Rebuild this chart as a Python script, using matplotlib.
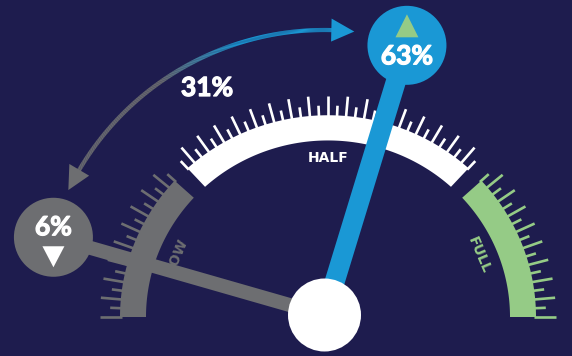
import numpy as np
import matplotlib
matplotlib.use("Agg")
import matplotlib.pyplot as plt
import matplotlib.patheffects as pe
from matplotlib.patches import Polygon, Circle
from matplotlib.collections import LineCollection
from matplotlib.colors import to_rgb

# ---------------- data ----------------
segment_labels = ["LOW", "HALF", "FULL"]
segment_spans = [(137.5, 180.0), (47.5, 132.5), (0.0, 42.5)]   # dial degrees
segment_colors = ["#6D6E71", "#FFFFFF", "#95CB86"]
label_colors = ["#6D6E71", "#FFFFFF", "#95CB86"]

needle_values = [6, 63]           # percent
needle_labels = ["6%", "63%"]
needle_trend = ["down", "up"]
needle_colors = ["#6D6E71", "#1A98D5"]
trend_colors = ["#FFFFFF", "#95CB86"]
change_label = "31%"

# dial scale (percent -> dial angle in degrees), as drawn in the infographic
dial_pct = [0, 6, 63, 100]
dial_deg = [180, 164, 73, 0]

BG = "#1E1C4E"

# ---------------- figure ----------------
fig = plt.figure(figsize=(5.72, 3.56), dpi=100)
fig.patch.set_facecolor(BG)
ax = fig.add_axes([0, 0, 1, 1])
ax.set_facecolor(BG)
ax.set_xlim(0, 572)
ax.set_ylim(356, 0)
ax.axis("off")

CX, CY, K = 328.0, 317.0, 0.97
R_IN, R_OUT = 182.0, 208.0


def gp(r, deg):
    t = np.radians(deg)
    return CX + r * np.cos(t), CY - K * r * np.sin(t)


# bands + ticks
for (a0, a1), col in zip(segment_spans, segment_colors):
    th = np.linspace(a0, a1, 200)
    xo, yo = gp(R_OUT, th)
    xi, yi = gp(R_IN, th[::-1])
    ax.add_patch(Polygon(np.column_stack([np.r_[xo, xi], np.r_[yo, yi]]),
                         closed=True, facecolor=col, edgecolor="none", zorder=2))
    angs = np.arange(a0, a1 + 0.01, 2.5)
    segs = []
    for a in angs:
        L = 20 if abs(a / 5 - round(a / 5)) < 1e-6 else 10
        x0, y0 = gp(R_OUT - 2, a)
        x1, y1 = gp(R_OUT + L, a)
        segs.append([(x0, y0), (x1, y1)])
    ax.add_collection(LineCollection(segs, colors=col, linewidths=1.9,
                                     capstyle="butt", zorder=2))

# segment labels
lab_r = 164
lab_ang = [157, 90, 23]
lab_rot = [67, 0, -67]
for lab, a, rot, col in zip(segment_labels, lab_ang, lab_rot, label_colors):
    x, y = gp(lab_r, a)
    ax.text(x, y, lab, color=col, fontsize=10, fontweight="bold",
            family="DejaVu Sans", ha="center", va="center", rotation=rot,
            rotation_mode="anchor", zorder=3)

# needles
HX, HY = 324.5, 315.0
NL = 282.0
NR = 39.5
widths = [14, 20]
ends = []
for v, col, w in zip(needle_values, needle_colors, widths):
    a = np.radians(np.interp(v, dial_pct, dial_deg))
    ex, ey = HX + NL * np.cos(a), HY - NL * np.sin(a)
    ends.append((ex, ey))
    px, py = np.sin(a) * w / 2, np.cos(a) * w / 2
    pts = [(HX + px, HY + py), (ex + px, ey + py), (ex - px, ey - py), (HX - px, HY - py)]
    ax.add_patch(Polygon(pts, closed=True, facecolor=col, edgecolor="none", zorder=4))
    ax.add_patch(Circle((ex, ey), NR, facecolor=col, edgecolor="none", zorder=5))

bold_fx = [pe.withStroke(linewidth=0.9, foreground="white")]

# labels inside needle heads
for (ex, ey), lab, tr, tc in zip(ends, needle_labels, needle_trend, trend_colors):
    if tr == "down":
        ty = ey - 10
        tri = [(ex - 11, ey + 9), (ex + 11, ey + 9), (ex, ey + 30)]
    else:
        ty = ey + 11
        tri = [(ex - 11.5, ey - 8), (ex + 11.5, ey - 8), (ex, ey - 31)]
    ax.text(ex, ty, lab, color="white", fontsize=19, fontweight="bold",
            family="Lato", ha="center", va="center", zorder=6,
            path_effects=bold_fx)
    ax.add_patch(Polygon(tri, closed=True, facecolor=tc, edgecolor="none", zorder=6))

# hub
ax.add_patch(Circle((HX, HY), 36.5, facecolor="white", edgecolor="none", zorder=7))

# change arrow (arc around hub)
R_ARC = 285.0
a_start = np.interp(needle_values[0], dial_pct, dial_deg) - 10
a_end = np.interp(needle_values[1], dial_pct, dial_deg) + 11
head_L, head_W = 23.0, 23.0
dA = np.degrees(head_L / R_ARC)


def ap(r, deg):
    t = np.radians(deg)
    return HX + r * np.cos(t), HY - r * np.sin(t)


c_g = np.array(to_rgb(needle_colors[0]))
c_b = np.array(to_rgb(needle_colors[1]))
th = np.linspace(a_start - dA + 0.5, a_end + dA - 0.5, 300)
xs, ys = ap(R_ARC, th)
segs = [[(xs[i], ys[i]), (xs[i + 1], ys[i + 1])] for i in range(len(th) - 1)]
cols = []
for i in range(len(th) - 1):
    m = 0.5 * (th[i] + th[i + 1])
    f = np.clip((125 - m) / (125 - 108), 0, 1)
    cols.append(c_g * (1 - f) + c_b * f)
ax.add_collection(LineCollection(segs, colors=cols, linewidths=3.0,
                                 capstyle="butt", zorder=3))
# heads
tip = ap(R_ARC, a_start)
b1 = ap(R_ARC - head_W / 2, a_start - dA)
b2 = ap(R_ARC + head_W / 2, a_start - dA)
ax.add_patch(Polygon([tip, b1, b2], closed=True, facecolor=needle_colors[0],
                     edgecolor="none", zorder=3))
tip = ap(R_ARC, a_end)
b1 = ap(R_ARC - head_W / 2, a_end + dA)
b2 = ap(R_ARC + head_W / 2, a_end + dA)
ax.add_patch(Polygon([tip, b1, b2], closed=True, facecolor=needle_colors[1],
                     edgecolor="none", zorder=3))

ax.text(207, 88, change_label, color="white", fontsize=19, fontweight="bold",
        family="Lato", ha="center", va="center", zorder=6, path_effects=bold_fx)

fig.savefig("out.png", dpi=100, facecolor=BG)
